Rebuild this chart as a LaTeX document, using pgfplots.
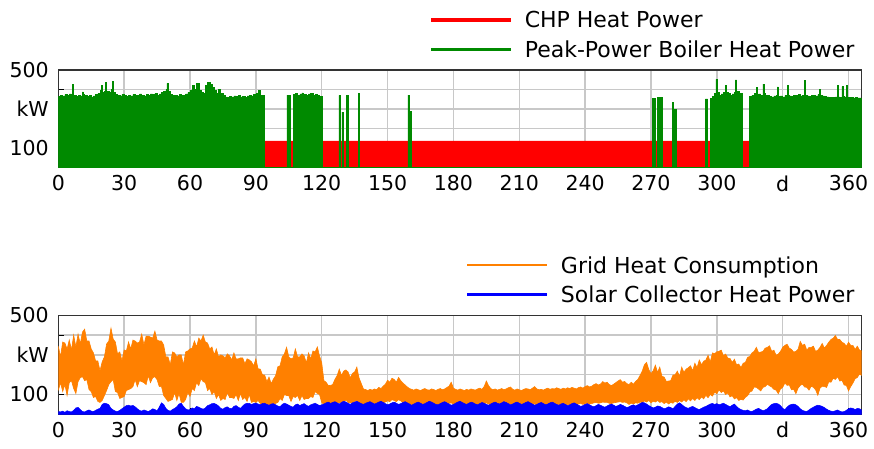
\documentclass[border=0pt]{standalone}
\usepackage{fontspec}
\setmainfont{DejaVu Sans}
\usepackage{pgfplots}
\usepackage{pgfplotstable}
\usepgfplotslibrary{fillbetween}
\pgfplotsset{compat=1.18}
\definecolor{chpred}{RGB}{255,0,0}
\definecolor{boilgreen}{RGB}{0,138,0}
\definecolor{gridorange}{RGB}{255,128,0}
\definecolor{solarblue}{RGB}{0,0,255}
\definecolor{gridgray}{RGB}{200,200,200}
\newcommand{\lstrut}{\rule[-5pt]{0pt}{22pt}}

\pgfplotstableread{
d hi lo
0 345 120
1 290 160
2 365 115
3 360 150
4 330 95
5 375 160
6 325 170
7 400 130
8 340 105
9 405 165
10 355 185
11 415 190
12 430 170
13 370 175
14 370 125
15 330 115
16 310 85
17 270 90
18 270 65
19 220 60
20 265 70
21 290 95
22 355 120
23 370 150
24 435 165
25 380 175
26 365 115
27 305 110
28 315 80
29 270 85
30 325 90
31 320 120
32 365 125
33 330 130
34 375 140
35 370 175
36 360 140
37 365 170
38 405 165
39 350 160
40 395 150
41 395 195
42 390 160
43 385 185
44 420 190
45 375 175
46 370 140
47 370 140
48 350 95
49 290 80
50 290 65
51 250 70
52 315 75
53 310 110
54 290 70
55 300 105
56 300 60
57 250 60
58 315 75
59 320 110
60 330 90
61 335 130
62 370 120
63 340 160
64 385 145
65 370 180
66 400 165
67 365 160
68 360 120
69 330 130
70 340 100
71 300 115
72 330 80
73 290 100
74 300 70
75 295 80
76 285 75
77 305 110
78 295 85
79 275 85
80 310 80
81 280 100
82 280 70
83 285 105
84 285 75
85 255 85
86 280 65
87 275 100
88 265 60
89 245 65
90 280 60
91 230 70
92 228 55
93 200 50
94 198 45
95 165 45
96 188 50
97 155 42
98 178 45
99 195 55
100 240 60
101 245 80
102 290 70
103 305 100
104 338 95
105 290 95
106 280 65
107 285 90
108 330 85
109 290 95
110 290 70
111 305 95
112 295 75
113 260 80
114 310 80
115 280 90
116 320 85
117 315 115
118 340 105
119 295 100
120 260 60
121 170 50
122 162 42
123 145 45
124 146 40
125 150 48
126 176 45
127 195 55
128 228 60
129 196 58
130 218 60
131 224 72
132 214 60
133 184 58
134 206 58
135 214 66
136 238 68
137 184 58
138 156 46
139 128 44
140 125 50
141 120 46
142 126 52
143 122 48
144 128 52
145 124 50
146 136 56
147 130 50
148 142 58
149 152 62
150 172 68
151 162 64
152 182 74
153 176 70
154 162 64
155 186 74
156 170 68
157 158 60
158 148 58
159 138 54
160 130 50
161 126 48
162 122 46
163 128 50
164 124 48
165 120 44
166 126 48
167 130 52
168 124 46
169 122 44
170 128 48
171 125 46
172 120 42
173 126 48
174 130 50
175 124 46
176 128 48
177 135 52
178 142 55
179 162 58
180 132 50
181 126 48
182 122 44
183 128 46
184 124 44
185 120 42
186 126 46
187 122 44
188 128 48
189 125 46
190 122 44
191 128 48
192 132 50
193 126 46
194 140 52
195 168 58
196 145 52
197 130 48
198 124 46
199 128 48
200 122 44
201 126 46
202 130 48
203 124 44
204 128 46
205 134 50
206 138 52
207 126 46
208 122 44
209 128 48
210 124 46
211 120 42
212 126 46
213 130 48
214 128 46
215 124 44
216 132 50
217 140 52
218 128 48
219 124 46
220 126 46
221 122 44
222 128 48
223 132 50
224 126 46
225 130 48
226 128 46
227 134 50
228 130 48
229 126 46
230 132 50
231 128 48
232 134 50
233 130 48
234 136 52
235 132 50
236 128 48
237 135 52
238 138 54
239 132 50
240 140 54
241 145 56
242 138 52
243 142 54
244 150 58
245 155 60
246 148 56
247 152 58
248 165 62
249 158 60
250 162 60
251 150 56
252 145 54
253 152 58
254 160 60
255 168 62
256 175 64
257 162 60
258 166 62
259 155 58
260 150 50
261 162 56
262 152 52
263 166 58
264 176 56
265 196 62
266 218 58
267 250 68
268 262 62
269 226 70
270 205 58
271 220 66
272 248 62
273 212 70
274 238 60
275 192 64
276 188 54
277 166 62
278 168 52
279 170 60
280 198 56
281 200 66
282 218 60
283 192 70
284 238 62
285 212 74
286 228 64
287 235 78
288 245 68
289 220 80
290 258 70
291 236 84
292 274 74
293 250 88
294 268 78
295 274 96
296 298 84
297 264 100
298 310 92
299 306 112
300 316 104
301 318 124
302 324 110
303 296 118
304 304 100
305 284 108
306 282 88
307 262 94
308 278 78
309 250 84
310 254 70
311 236 76
312 258 72
313 262 86
314 288 94
315 292 112
316 310 118
317 318 138
318 338 136
319 312 128
320 314 118
321 318 136
322 334 140
323 338 152
324 346 144
325 318 138
326 324 126
327 298 122
328 304 104
329 318 128
330 338 136
331 348 158
332 354 146
333 334 148
334 328 124
335 314 126
336 318 104
337 328 132
338 368 146
339 348 152
340 354 138
341 324 136
342 338 122
343 338 142
344 344 136
345 318 124
346 324 96
347 338 132
348 358 142
349 334 140
350 348 136
351 364 164
352 378 162
353 384 182
354 398 176
355 378 190
356 378 168
357 364 172
358 358 148
359 344 146
360 364 118
361 348 140
362 348 158
363 328 180
364 344 186
365 324 204
366 320 196
}\griddata

\pgfplotstableread{
d s
0 14
1 12
2 16
3 10
4 18
5 14
6 12
7 20
8 32
9 35
10 24
11 14
12 12
13 18
14 22
15 16
16 14
17 20
18 26
19 30
20 50
21 56
22 54
23 48
24 30
25 22
26 16
27 14
28 20
29 28
30 36
31 44
32 46
33 42
34 45
35 38
36 28
37 20
38 16
39 22
40 18
41 14
42 20
43 28
44 24
45 18
46 36
47 58
48 50
49 30
50 20
51 16
52 24
53 30
54 38
55 52
56 56
57 40
58 28
59 22
60 24
61 32
62 28
63 40
64 36
65 30
66 26
67 32
68 44
69 48
70 54
71 55
72 50
73 42
74 30
75 26
76 34
77 38
78 30
79 28
80 40
81 44
82 36
83 30
84 42
85 52
86 56
87 55
88 50
89 54
90 57
91 52
92 48
93 55
94 56
95 50
96 46
97 52
98 54
99 48
100 42
101 38
102 50
103 56
104 52
105 46
106 40
107 36
108 48
109 52
110 44
111 50
112 54
113 46
114 40
115 48
116 52
117 56
118 50
119 44
120 48
121 52
122 58
123 62
124 55
125 60
126 64
127 58
128 52
129 60
130 66
131 62
132 56
133 50
134 58
135 62
136 66
137 60
138 54
139 50
140 56
141 60
142 64
143 58
144 52
145 56
146 62
147 66
148 60
149 54
150 48
151 52
152 58
153 62
154 56
155 50
156 54
157 60
158 64
159 58
160 52
161 46
162 52
163 58
164 62
165 56
166 50
167 54
168 60
169 66
170 62
171 56
172 50
173 48
174 54
175 60
176 64
177 58
178 52
179 46
180 50
181 56
182 62
183 66
184 60
185 54
186 50
187 56
188 62
189 58
190 52
191 48
192 54
193 60
194 56
195 50
196 46
197 52
198 58
199 62
200 56
201 52
202 58
203 64
204 60
205 54
206 48
207 52
208 58
209 62
210 56
211 50
212 54
213 60
214 64
215 58
216 52
217 46
218 50
219 56
220 60
221 54
222 48
223 52
224 58
225 62
226 56
227 50
228 46
229 52
230 56
231 50
232 44
233 48
234 54
235 58
236 52
237 46
238 40
239 44
240 50
241 54
242 48
243 42
244 38
245 44
246 50
247 46
248 40
249 36
250 42
251 48
252 52
253 46
254 40
255 44
256 50
257 46
258 40
259 34
260 38
261 44
262 48
263 42
264 48
265 54
266 60
267 58
268 52
269 44
270 38
271 32
272 36
273 42
274 40
275 34
276 28
277 32
278 38
279 34
280 28
281 40
282 52
283 58
284 50
285 40
286 34
287 30
288 36
289 40
290 34
291 28
292 24
293 30
294 36
295 40
296 46
297 52
298 55
299 50
300 54
301 48
302 52
303 56
304 50
305 44
306 38
307 46
308 52
309 40
310 30
311 24
312 20
313 18
314 22
315 16
316 14
317 20
318 26
319 30
320 24
321 18
322 22
323 28
324 40
325 50
326 54
327 56
328 52
329 44
330 30
331 24
332 36
333 46
334 50
335 52
336 48
337 40
338 28
339 20
340 16
341 14
342 22
343 30
344 36
345 42
346 46
347 44
348 40
349 34
350 26
351 20
352 16
353 14
354 18
355 22
356 16
357 12
358 14
359 20
360 28
361 32
362 30
363 24
364 30
365 28
366 22
}\solardata

\pgfplotsset{
  myaxis/.style={
    scale only axis, width=803.4pt,
    xmin=0, xmax=366, ymin=0, ymax=500,
    xtick={0,30,60,90,120,150,180,210,240,270,300,330,360},
    xticklabels={0,30,60,90,120,150,180,210,240,270,300,d,360},
    ytick={100,200,300,400,500},
    yticklabels={100,,kW,,500},
    grid=major, major grid style={gridgray, line width=1.5pt},
    axis line style={black!80, line width=1.5pt},
    tick align=inside, tick pos=left, major tick length=6pt,
    tick style={black, line width=1pt},
    ticklabel style={font=\fontsize{20.5}{24}\selectfont},
    xticklabel style={yshift=-4.5pt},
    yticklabel style={xshift=-6pt},
    legend cell align=left,
    legend style={at={(1,1)}, anchor=south east, xshift=-5pt, yshift=9pt,
      draw=none, fill=none, inner sep=0pt,
      font=\fontsize{22}{26}\selectfont, row sep=7pt,
      /tikz/every odd column/.append style={column sep=10pt}},
  }
}

\begin{document}
\begin{tikzpicture}
\path (0,0) rectangle (874pt,448pt);

\begin{axis}[myaxis, at={(58.3pt,280.3pt)}, anchor=south west, height=97.7pt]
\addplot[const plot, fill=chpred, draw=none,
  legend image code/.code={\draw[chpred, line width=3.5pt] (0pt,0pt) -- (80pt,0pt);}]
  coordinates {(0,0)(93.5,137)(324,0)(366,0)} \closedcycle;
\addlegendentry{\lstrut CHP Heat Power}
\addplot[const plot, fill=boilgreen, draw=boilgreen, line width=0.5pt,
  legend image code/.code={\draw[boilgreen, line width=2.5pt] (0pt,0pt) -- (80pt,0pt);}]
  coordinates {
(0,365)(1,372)(2,368)(3,375)(4,370)(5,378)(6,372)(6.3,425)(6.7,378)(7,370)(8,366)(9,372)(10,368)(11,388)(11.4,210)(11.7,375)(12,372)(13,365)(14,370)(15,362)(16,368)(17,375)(18,380)(19,395)(19.5,420)(20,385)(21,390)(21.5,435)(22,390)(23,385)(24,400)(24.5,440)(25,385)(26,375)(27,372)(28,368)(29,375)(30,370)(31,366)(32,372)(33,368)(34,375)(35,370)(36,372)(37,378)(38,372)(39,368)(40,375)(41,372)(42,378)(43,375)(44,380)(45,372)(46,378)(47,385)(48,390)(49,400)(49.5,432)(50,392)(51,375)(52,330)(52.5,370)(53,372)(54,368)(55,375)(56,370)(57,372)(58,378)(59,385)(60,395)(61,422)(62,400)(63,430)(64,395)(65,385)(66,380)(67,422)(68,436)(69,425)(70,410)(71,395)(72,380)(73,402)(74,380)(75,372)(76,360)(76.3,150)(76.6,362)(77,360)(78,365)(79,362)(80,368)(81,365)(82,370)(83,362)(84,366)(85,360)(86,368)(87,372)(88,368)(89,375)(90,380)(91,395)(92,372)(93,370)(94,0)
(104.1,372)(105.5,0)(107,375)(108,380)(109,372)(110,378)(111,383)(111.5,300)(111.8,378)(112,375)(113,370)(114,378)(114.5,320)(114.8,380)(115,380)(116,372)(117,375)(118,370)(119,365)(120.2,0)
(127.8,370)(128.3,0)(129.2,285)(129.6,0)(131.2,372)(132.1,0)(136.7,382)(137.2,0)(159.2,372)(159.8,290)(160.9,0)
(270.5,355)(271.8,0)(272.9,358)(275.1,0)(279.6,335)(280.3,300)(281.5,0)(294.8,352)(295.8,0)(297.1,355)(298,365)(299,380)(299.6,452)(300,385)(301,370)(301.4,285)(301.8,372)(302,378)(303,385)(304,420)(304.4,385)(305,380)(306,372)(307,378)(308,385)(308.5,450)(309,390)(310,380)(311.5,0)(314.8,365)(316,372)(317,380)(318,412)(318.5,375)(319,378)(320,372)(321,428)(321.5,380)(322,372)(322.8,140)(323.2,372)(324,365)(325,362)(326,368)(327,372)(327.6,413)(328,365)(329,368)(330,362)(331,370)(332,420)(332.5,372)(333,368)(334,365)(335,372)(336,370)(337,375)(338,368)(339,372)(340,445)(340.4,372)(341,368)(342,365)(343,370)(344,372)(345,368)(346,375)(346.6,400)(347,372)(348,368)(349,365)(350,362)(351,0)(351.3,360)(352,358)(353,360)(354,362)(355,420)(355.5,362)(356,360)(357,415)(357.5,365)(358,362)(359,420)(359.5,360)(360,358)(361,360)(362,357)(363,358)(364,357)(366,357)
  } \closedcycle;
\addlegendentry{\lstrut Peak-Power Boiler Heat Power}
\end{axis}

\begin{axis}[myaxis, at={(58.3pt,33.7pt)}, anchor=south west, height=99pt]
\addplot[name path=ghi, gridorange, line width=0.6pt, forget plot] table[x=d, y=hi] {\griddata};
\addplot[name path=glo, gridorange, line width=0.6pt, forget plot] table[x=d, y=lo] {\griddata};
\addplot[fill=gridorange, draw=none, forget plot] fill between[of=ghi and glo];
\addlegendimage{legend image code/.code={\draw[gridorange, line width=2pt] (0pt,0pt) -- (80pt,0pt);}}
\addlegendentry{\lstrut Grid Heat Consumption}
\addplot[fill=solarblue, draw=solarblue, line width=0.5pt,
  legend image code/.code={\draw[solarblue, line width=3pt] (0pt,0pt) -- (80pt,0pt);}]
  table[x=d, y=s] {\solardata} \closedcycle;
\addlegendentry{\lstrut Solar Collector Heat Power}
\end{axis}
\end{tikzpicture}
\end{document}
